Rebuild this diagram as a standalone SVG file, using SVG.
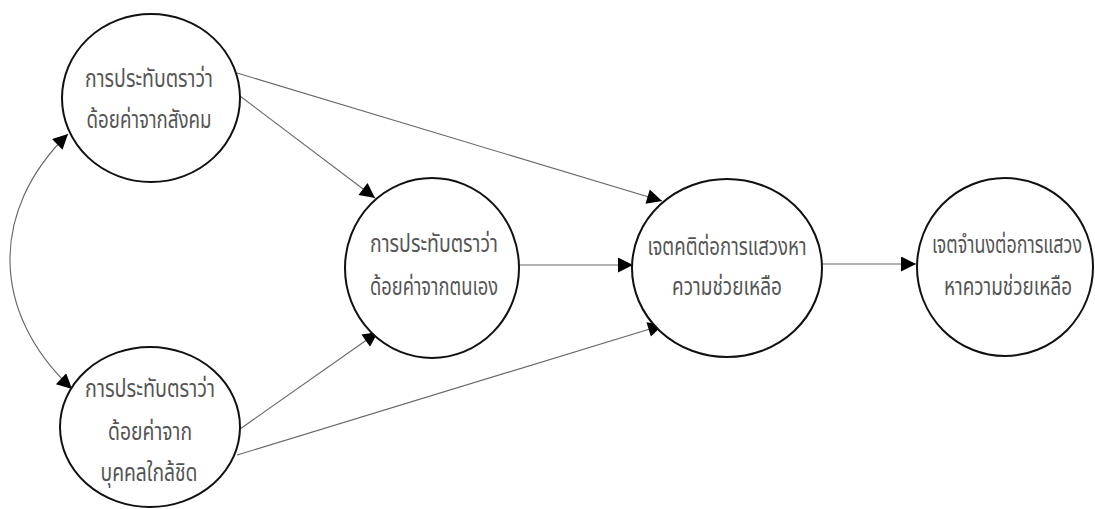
<svg xmlns="http://www.w3.org/2000/svg" width="1095" height="509" viewBox="0 0 1095 509">
<defs>
<style>
.node ellipse{fill:#fff;stroke:#111;stroke-width:2}
.node text{font-family:"Noto Sans Thai","Noto Sans","DejaVu Sans",sans-serif;font-size:25px;fill:#555;text-anchor:middle}
.conn path{fill:none;stroke:#666;stroke-width:1.1}
</style>
<marker id="ah" viewBox="0 0 10 10" refX="10" refY="5" markerWidth="17" markerHeight="15" markerUnits="userSpaceOnUse" orient="auto-start-reverse">
<path d="M0,0 L10,5 L0,10 Z" fill="#000"/>
</marker>
</defs>
<rect width="1095" height="509" fill="#fff"/>
<g class="conn">
<path d="M68,134 C-10,210 -10,312 72,389" marker-start="url(#ah)" marker-end="url(#ah)"/>
<path d="M240,96 L375,198" marker-end="url(#ah)"/>
<path d="M237,73 L662,201" marker-end="url(#ah)"/>
<path d="M240,429 L378,332" marker-end="url(#ah)"/>
<path d="M237,455 L663,325" marker-end="url(#ah)"/>
<path d="M519,265 L633,265" marker-end="url(#ah)"/>
<path d="M822,264 L916,264" marker-end="url(#ah)"/>
</g>
<g id="n1" class="node">
<ellipse cx="151" cy="98" rx="89" ry="84"/>
<text x="149" y="87" textLength="128" lengthAdjust="spacingAndGlyphs">การประทับตราว่า</text>
<text x="149" y="128" textLength="125" lengthAdjust="spacingAndGlyphs">ด้อยค่าจากสังคม</text>
</g>
<g id="n2" class="node">
<ellipse cx="150" cy="427" rx="90" ry="80"/>
<text x="150" y="397" textLength="130" lengthAdjust="spacingAndGlyphs">การประทับตราว่า</text>
<text x="150" y="440" textLength="84" lengthAdjust="spacingAndGlyphs">ด้อยค่าจาก</text>
<text x="149" y="481" textLength="97" lengthAdjust="spacingAndGlyphs">บุคคลใกล้ชิด</text>
</g>
<g id="n3" class="node">
<ellipse cx="432" cy="268" rx="87" ry="90"/>
<text x="434" y="252" textLength="128" lengthAdjust="spacingAndGlyphs">การประทับตราว่า</text>
<text x="434" y="295" textLength="128" lengthAdjust="spacingAndGlyphs">ด้อยค่าจากตนเอง</text>
</g>
<g id="n4" class="node">
<ellipse cx="727" cy="268" rx="95" ry="89"/>
<text x="727" y="255" textLength="159" lengthAdjust="spacingAndGlyphs">เจตคติต่อการแสวงหา</text>
<text x="727" y="295" textLength="110" lengthAdjust="spacingAndGlyphs">ความช่วยเหลือ</text>
</g>
<g id="n5" class="node">
<ellipse cx="1005" cy="267" rx="88" ry="89"/>
<text x="1007" y="253" textLength="150" lengthAdjust="spacingAndGlyphs">เจตจำนงต่อการแสวง</text>
<text x="1008" y="295" textLength="128" lengthAdjust="spacingAndGlyphs">หาความช่วยเหลือ</text>
</g>
</svg>
